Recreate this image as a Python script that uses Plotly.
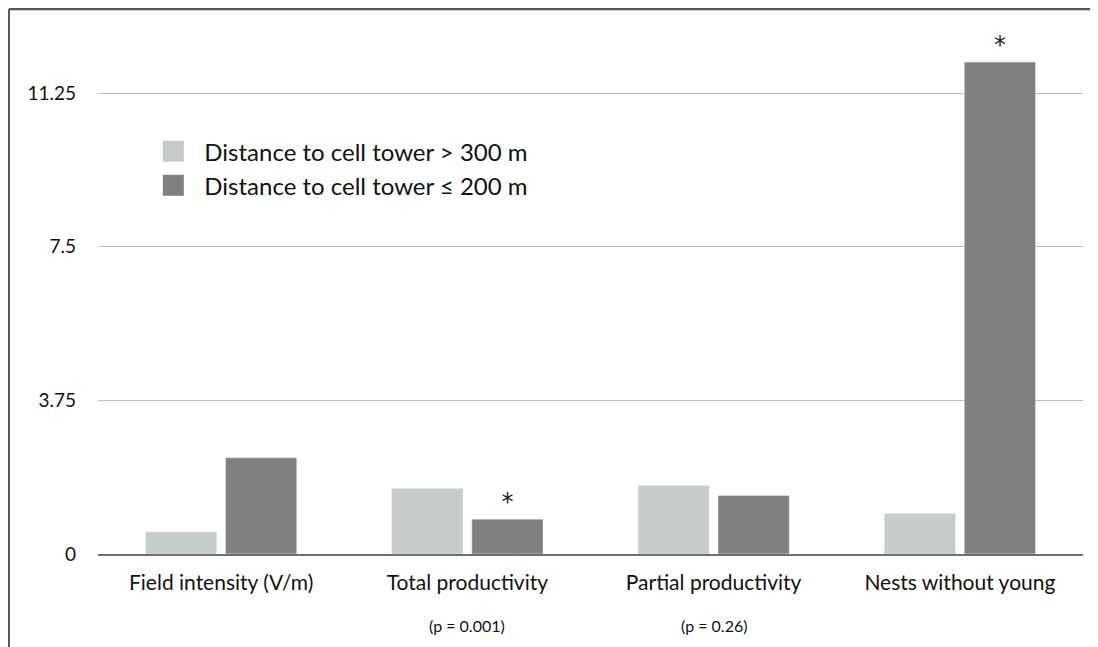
"""Grouped bars: nest productivity vs distance to a cell tower."""

import plotly.graph_objects as go

categories = [
    "Field intensity (V/m)",
    "Total productivity",
    "Partial productivity",
    "Nests without young",
]
far_values = [0.54, 1.60, 1.67, 0.99]
near_values = [2.35, 0.85, 1.43, 12.01]
near_marks = ["", "*", "", "*"]
p_labels = {"Total productivity": "(p = 0.001)", "Partial productivity": "(p = 0.26)"}
y_ticks = [0, 3.75, 7.5, 11.25]
y_tick_text = ["0", "3.75", "7.5", "11.25"]

FAR_NAME = "Distance to cell tower > 300 m"
NEAR_NAME = "Distance to cell tower \u2264 200 m"
LIGHT = "#c8ccc8"
DARK = "#808080"
FONT = "Lato, 'Open Sans', sans-serif"

fig = go.Figure()

fig.add_trace(
    go.Bar(
        x=categories,
        y=far_values,
        name=FAR_NAME,
        marker_color=LIGHT,
        showlegend=False,
    )
)
fig.add_trace(
    go.Bar(
        x=categories,
        y=near_values,
        name=NEAR_NAME,
        marker_color=DARK,
        text=near_marks,
        textposition="outside",
        textfont=dict(size=24, color="#222", family="DejaVu Sans"),
        cliponaxis=False,
        showlegend=False,
    )
)

# legend entries with larger square swatches
for name, colour in [(FAR_NAME, LIGHT), (NEAR_NAME, DARK)]:
    fig.add_trace(
        go.Scatter(
            x=[None],
            y=[None],
            mode="markers",
            name=name,
            marker=dict(symbol="square", size=16, color=colour,
                        line=dict(color=colour, width=5)),
        )
    )

for cat, label in p_labels.items():
    fig.add_annotation(
        x=cat, y=0, xref="x", yref="y",
        text=label, showarrow=False,
        yshift=-71, font=dict(size=16, color="#111"),
    )

# frame on the top and left edge
fig.add_shape(type="line", xref="paper", yref="paper",
              x0=-0.0904, x1=1.06, y0=1.0645, y1=1.0645,
              line=dict(color="#555", width=2.5))
fig.add_shape(type="line", xref="paper", yref="paper",
              x0=-0.0904, x1=-0.0904, y0=1.0645, y1=-0.25,
              line=dict(color="#555", width=2))

# page body has an 8px margin, so margins are shifted to compensate
fig.update_layout(
    width=1098,
    height=647,
    margin=dict(l=90, r=23, t=34, b=101),
    plot_bgcolor="white",
    paper_bgcolor="white",
    font=dict(family=FONT, color="#111"),
    barmode="group",
    bargap=0.35,
    bargroupgap=0.11,
    xaxis=dict(
        showgrid=False,
        showline=True,
        linecolor="#707070",
        linewidth=1.5,
        ticks="",
        ticklabelstandoff=9,
        tickfont=dict(size=21),
    ),
    yaxis=dict(
        range=[0, 12.5],
        tickmode="array",
        tickvals=y_ticks,
        ticktext=y_tick_text,
        showgrid=True,
        gridcolor="#bdbdbd",
        gridwidth=1,
        zeroline=False,
        ticklabelstandoff=21,
        tickfont=dict(size=19),
    ),
    legend=dict(
        x=0.045,
        y=0.83,
        xanchor="left",
        yanchor="top",
        font=dict(size=24),
        itemwidth=52,
        bgcolor="rgba(0,0,0,0)",
        tracegroupgap=4,
    ),
)

fig.write_html("out.html")
